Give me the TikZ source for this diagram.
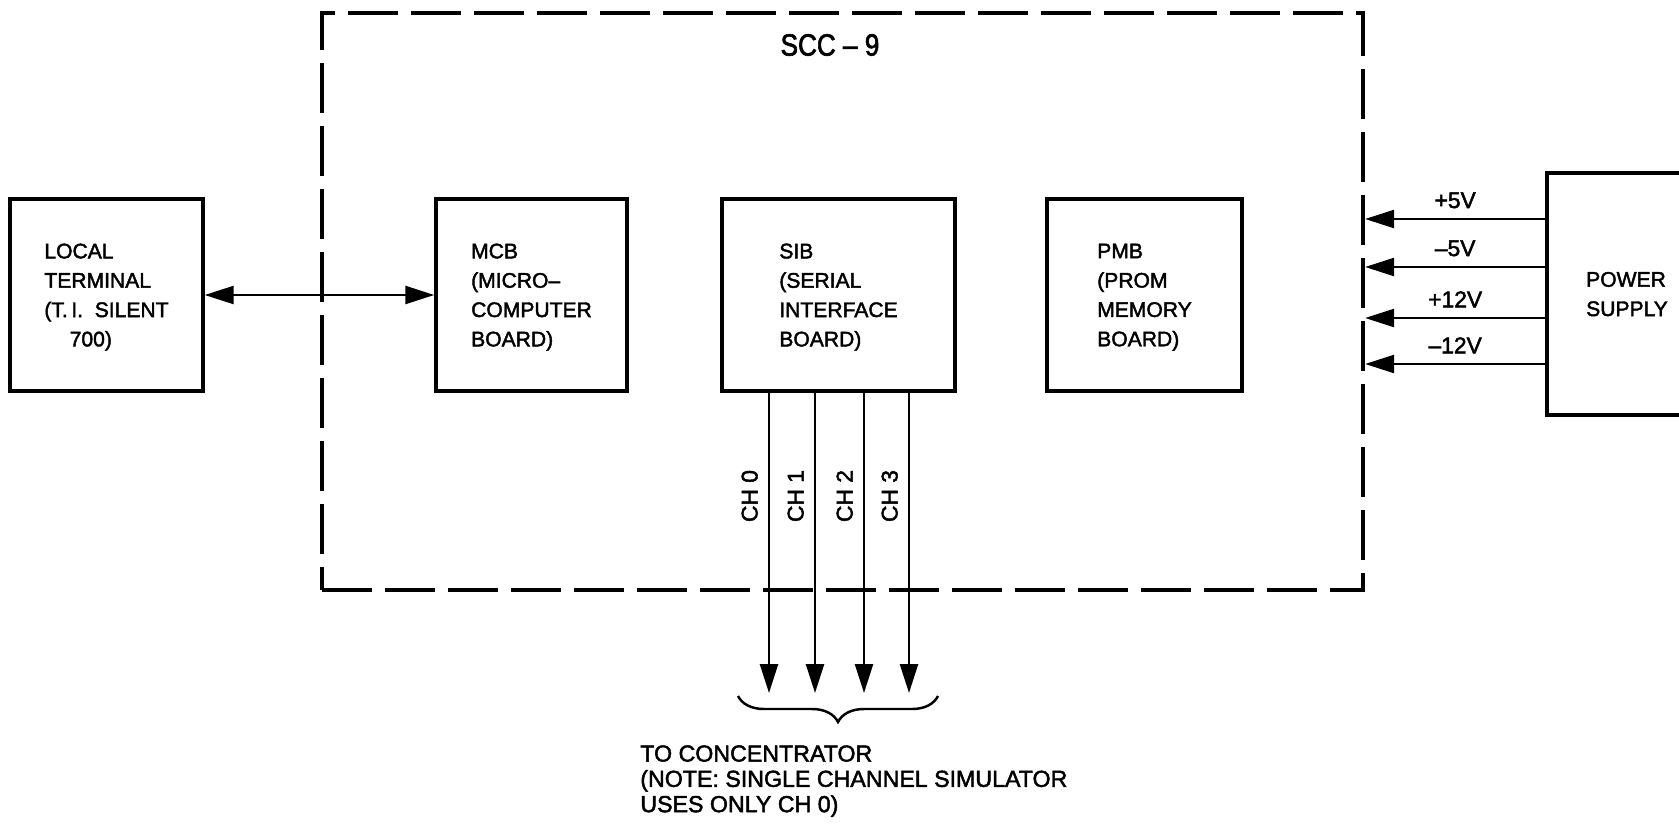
\documentclass[tikz,border=0pt]{standalone}
\usepackage{fontspec}
\setmainfont{Liberation Sans}[FakeBold=2]
\newfontfamily\narrowfont[FakeStretch=0.85,FakeBold=2]{Liberation Sans}
\usetikzlibrary{arrows.meta,decorations.pathreplacing}

\begin{document}
\begin{tikzpicture}[x=0.02cm,y=-0.02cm,board/.style={draw, line width=2pt, align=left, inner sep=0pt, text depth=0pt, minimum height=3.84cm, font=\fontsize{12}{16.7}\selectfont},frame/.style={draw, line width=2.5pt, dash pattern=on 1cm off 0.26cm, inner sep=0pt, minimum width=20.82cm, minimum height=11.54cm},sig/.style={line width=1.4pt, >={Triangle[length=0.58cm,width=0.36cm]}, ->},vlabel/.style={above=0.19cm, inner sep=0pt, font=\fontsize{13}{15}\selectfont},chlabel/.style={rotate=90, anchor=south, inner xsep=0pt, inner ysep=0.2cm, font=\fontsize{13}{15}\selectfont},note/.style={align=left, inner sep=0pt, font=\fontsize{13.2}{14.4}\selectfont}]
\useasboundingbox (0,0) rectangle (1679,829);
% SCC-9 chassis
\node[frame] (scc) at (842.5,301.5) {}; \node[font=\narrowfont\fontsize{17.5}{19}\selectfont] (title) at (830,45) {SCC – 9};
% boards
\node[board, minimum width=3.86cm] (lt) at (106.5,295) {LOCAL\\TERMINAL\\(T.\,I.\ \ SILENT\\\hspace*{1.2em}700)};
\node[board, minimum width=3.82cm] (mcb) at (531.5,295) {MCB\\(MICRO–\\COMPUTER\\BOARD)};
\node[board, minimum width=4.66cm] (sib) at (838.5,295) {SIB\\(SERIAL\\INTERFACE\\BOARD)};
\node[board, minimum width=3.9cm] (pmb) at (1144.5,295) {PMB\\(PROM\\MEMORY\\BOARD)};
\node[board, minimum width=3.2cm, minimum height=4.84cm] (psu) at (1627,294) {POWER\\SUPPLY};
\draw[sig, <->] (lt) -- (mcb);
% supply rails
\foreach \v/\yy in {+5V/219, –5V/267, +12V/318, –12V/364}
  \draw[sig] (psu.west |- 0,\yy) -- node[vlabel] {\v} (scc.east |- 0,\yy);
% serial channels
\foreach \i/\xx in {0/769,1/815,2/864,3/909} {
  \coordinate (ch\i) at (\xx,693);
  \draw[sig] (sib.south -| ch\i) -- node[chlabel, pos=0.344] {CH \i} (ch\i);
}
\coordinate (bl) at (738,696); \coordinate (br) at (938,696);
\draw[line width=1.4pt, decorate, decoration={brace, amplitude=0.52cm, mirror}] (bl) -- (br);
\node[note, anchor=north west] (note) at (640,745) {TO CONCENTRATOR\\(NOTE: SINGLE CHANNEL SIMULATOR\\USES ONLY CH 0)};
\end{tikzpicture}
\end{document}
